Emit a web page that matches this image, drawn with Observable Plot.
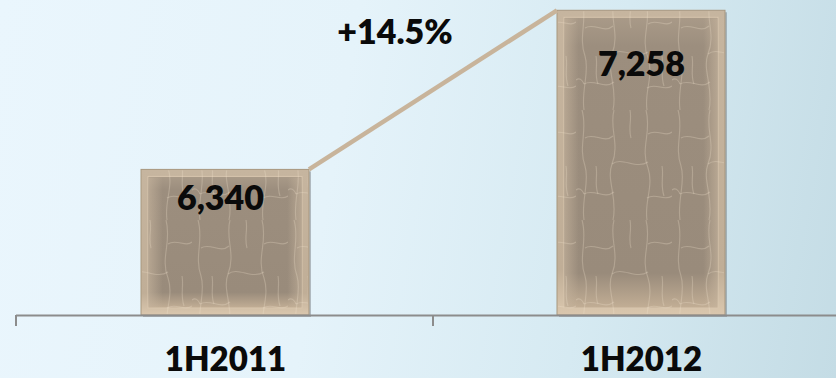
<!DOCTYPE html>
<html><head><meta charset="utf-8">
<script src="https://cdn.jsdelivr.net/npm/d3@7"></script>
<script src="https://cdn.jsdelivr.net/npm/@observablehq/plot@0.6"></script>
<style>
html,body{margin:0;padding:0;}
body{width:836px;height:378px;overflow:hidden;
background:linear-gradient(100deg,#eaf6fd 0%,#e5f3fa 40%,#d6eaf2 70%,#c4dce5 100%);}
#chart svg{display:block;}
</style></head><body><div id="chart"></div>
<script>
const periods = ["1H2011", "1H2012"];
const revenue = [6340, 7258];
const valueLabels = ["6,340", "7,258"];
const changeLabel = "+14.5%";
const axisMin = 5500;
const axisMax = 7300;

const data = periods.map((p, i) => ({period: p, value: revenue[i], label: valueLabels[i]}));
const font = "Lato, 'Open Sans', sans-serif";
const weight = 800;

function overlay(index, scales) {
  const x = scales.x, y = scales.y;
  const bw = x.bandwidth();
  const g = d3.create("svg:g");
  const y0 = y(axisMin);
  const r = x.range();
  const bounds = [r[0]];
  for (let i = 1; i < periods.length; i++) bounds.push((x(periods[i - 1]) + bw + x(periods[i])) / 2);
  bounds.push(r[1]);
  for (const b of bounds) {
    g.append("line").attr("x1", b).attr("x2", b).attr("y1", y0).attr("y2", y0 + 11)
      .attr("stroke", "#8c8c8c").attr("stroke-width", 2);
  }
  const xa = x(periods[0]) + bw, ya = y(revenue[0]);
  const xb = x(periods[1]), yb = y(revenue[1]);
  g.append("line").attr("x1", xa).attr("y1", ya).attr("x2", xb).attr("y2", yb)
    .attr("stroke", "#c8b49b").attr("stroke-width", 4.5).attr("stroke-linecap", "butt");
  g.append("text").attr("x", (xa + xb) / 2 - 38).attr("y", yb + 25)
    .attr("text-anchor", "middle").attr("dominant-baseline", "middle")
    .attr("font-family", font).attr("font-weight", weight).attr("font-size", 34)
    .attr("fill", "#0a0a0a").text(changeLabel);
  return g.node();
}

const chart = Plot.plot({
  width: 836, height: 378,
  marginTop: 3, marginBottom: 63, marginLeft: 16, marginRight: 0,
  style: {background: "transparent", fontFamily: font, overflow: "visible"},
  x: {domain: periods, range: [16, 850], paddingInner: 0.596, paddingOuter: 0.3, axis: null},
  y: {domain: [axisMin, axisMax], axis: null},
  marks: [
    Plot.barY(data, {x: "period", y1: axisMin, y2: "value", fill: "#6f7478", fillOpacity: 0.45, dx: 2, dy: 2}),
    Plot.barY(data, {x: "period", y1: axisMin, y2: "value", fill: "url(#frameGrad)", stroke: "#a8977f", strokeWidth: 1}),
    Plot.barY(data, {x: "period", y1: axisMin, y2: "value", inset: 7, fill: "url(#faceGrad)", stroke: "#d8c6ae", strokeWidth: 1}),
    Plot.barY(data, {x: "period", y1: axisMin, y2: "value", inset: 8, fill: "url(#sideGrad)"}),
    Plot.barY(data, {x: "period", y1: axisMin, y2: "value", inset: 1, fill: "url(#crackle)"}),
    Plot.ruleY([axisMin], {stroke: "#8c8c8c", strokeWidth: 2}),
    Plot.text(data, {filter: (d, i) => i === 0, x: "period", y: "value", text: "label", dy: 29, dx: -5,
      fontSize: 34, fontWeight: weight, fill: "#0a0a0a"}),
    Plot.text(data, {filter: (d, i) => i === 1, x: "period", y: "value", text: "label", dy: 54,
      fontSize: 34, fontWeight: weight, fill: "#0a0a0a"}),
    Plot.text(periods, {x: d => d, frameAnchor: "bottom", dy: 55, fontSize: 33, fontWeight: weight, fill: "#0a0a0a"}),
    overlay
  ]
});

const svg = d3.select(chart);
const defs = svg.insert("defs", ":first-child");
const fg = defs.append("linearGradient").attr("id", "frameGrad").attr("x1", 0).attr("y1", 0).attr("x2", 0).attr("y2", 1);
fg.append("stop").attr("offset", "0%").attr("stop-color", "#c6b59f");
fg.append("stop").attr("offset", "85%").attr("stop-color", "#c0ae97");
fg.append("stop").attr("offset", "100%").attr("stop-color", "#dac7ae");
const fa = defs.append("linearGradient").attr("id", "faceGrad").attr("x1", 0).attr("y1", 0).attr("x2", 0).attr("y2", 1);
fa.append("stop").attr("offset", "0%").attr("stop-color", "#a99a88");
fa.append("stop").attr("offset", "10%").attr("stop-color", "#9c8e7e");
fa.append("stop").attr("offset", "88%").attr("stop-color", "#998b7b");
fa.append("stop").attr("offset", "100%").attr("stop-color", "#c2ae95");
const sg = defs.append("linearGradient").attr("id", "sideGrad").attr("x1", 0).attr("y1", 0).attr("x2", 1).attr("y2", 0);
sg.append("stop").attr("offset", "0%").attr("stop-color", "#c7b59e").attr("stop-opacity", 0.6);
sg.append("stop").attr("offset", "9%").attr("stop-color", "#c7b59e").attr("stop-opacity", 0);
sg.append("stop").attr("offset", "91%").attr("stop-color", "#c7b59e").attr("stop-opacity", 0);
sg.append("stop").attr("offset", "100%").attr("stop-color", "#c7b59e").attr("stop-opacity", 0.6);
const pat = defs.append("pattern").attr("id", "crackle").attr("patternUnits", "userSpaceOnUse")
  .attr("width", 96).attr("height", 110);
const crackPaths = [
  "M6 0 C12 20 2 36 9 56 C14 72 5 90 8 110",
  "M38 0 C33 18 44 34 36 54 C30 70 42 88 37 110",
  "M70 0 C76 22 64 38 72 58 C78 76 68 92 71 110",
  "M9 28 C18 22 28 34 37 26",
  "M36 54 C46 46 60 60 72 52",
  "M72 24 C80 18 90 28 96 22",
  "M0 80 C5 76 8 84 8 84",
  "M8 84 C18 78 28 90 38 82",
  "M71 88 C80 82 88 92 96 86",
  "M20 56 C22 66 18 74 22 84",
  "M54 0 C56 10 52 18 55 28",
  "M86 56 C88 66 84 74 88 86"
];
for (const p of crackPaths) {
  pat.append("path").attr("d", p).attr("fill", "none")
    .attr("stroke", "#efe0ca").attr("stroke-opacity", 0.28).attr("stroke-width", 1.1);
}
document.getElementById("chart").appendChild(chart);
</script>
</body></html>
